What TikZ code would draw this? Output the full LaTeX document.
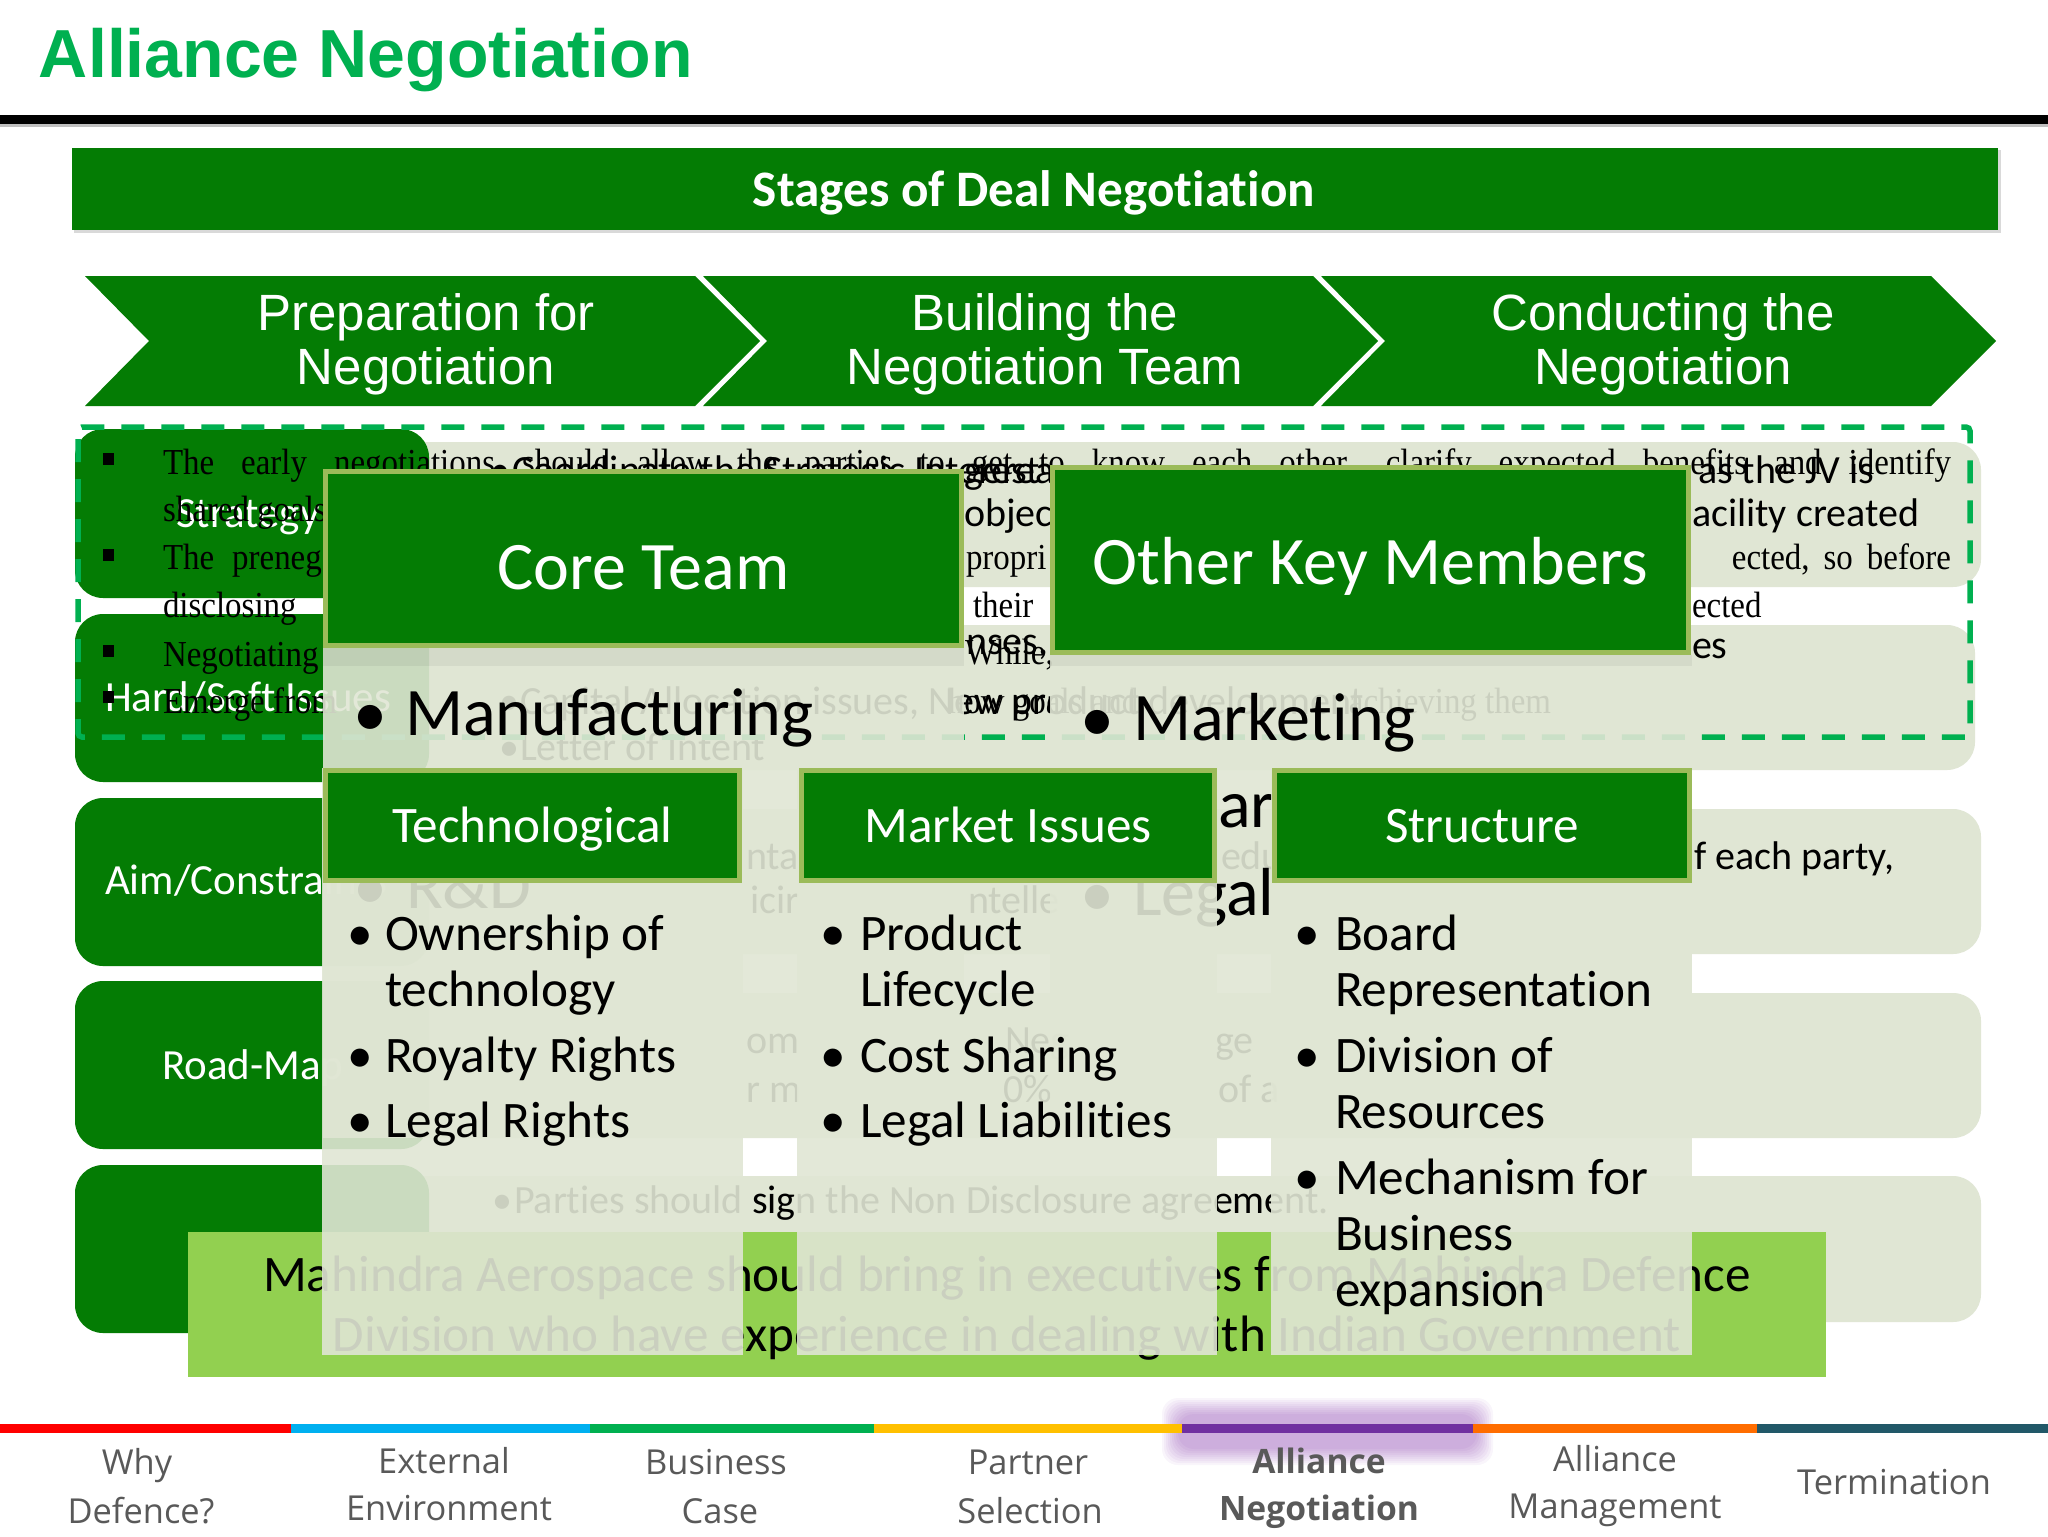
\documentclass[tikz,border=0pt]{standalone}
\usepackage{fontspec}
\setmainfont[Ligatures=NoCommon]{Carlito}
\newfontfamily\arialfont{Liberation Sans}
\newfontfamily\serifont[FakeStretch=0.9]{Liberation Serif}
\newfontfamily\footfont{Open Sans}
\usetikzlibrary{positioning}
\definecolor{dealgreen}{HTML}{047C04}
\definecolor{titlegreen}{HTML}{00B050}
\definecolor{rowpale}{HTML}{E0E6D4}
\definecolor{panelpale}{HTML}{E0E6D4}
\definecolor{headedge}{HTML}{9BBB59}
\definecolor{barlime}{HTML}{92D050}
\definecolor{footgray}{HTML}{595959}
\newcommand{\fs}[1]{\fontsize{#1}{#1}\selectfont}
\begin{document}
\begin{tikzpicture}[x=0.5pt,y=-0.5pt]
\tikzstyle{txt}=[anchor=base west,inner sep=0pt,outer sep=0pt]
\tikzstyle{rowlabel}=[txt,text=white,font=\fs{21.5},yshift=-0.6pt]
\tikzstyle{rowtext}=[txt,font=\fs{20},yshift=-0.6pt]
\tikzstyle{rowserif}=[txt,font=\serifont\fs{18.3},yshift=-0.5pt]
\tikzstyle{panel}=[fill=panelpale,opacity=0.9]
\tikzstyle{headbox}=[fill=dealgreen,draw=headedge,line width=2.5pt,text=white,inner sep=0pt]
\tikzstyle{listitem}=[txt,font=\fs{25.6},yshift=-0.6pt]
\tikzstyle{dot}=[anchor=base,inner sep=0pt,outer sep=0pt,yshift=-0.6pt]
\tikzstyle{chevtext}=[align=center,text=white,font=\arialfont\fs{25.5},inner sep=0pt]
\tikzstyle{foot}=[anchor=base,inner sep=0pt,text=footgray,font=\footfont\fs{17.2}]
\useasboundingbox (0,0) rectangle (2048,1536);
\fill[white] (0,0) rectangle (2048,1536);
% title and banner
\node[txt,text=titlegreen,font=\arialfont\bfseries\fs{34}] (title) at (39,78) {Alliance Negotiation};
\fill[black!25] (0,124) rectangle (2048,127);
\fill[black] (0,115) rectangle (2048,124);
\fill[black!15] (74,150) rectangle (2001,233);
\fill[dealgreen] (72,148) rectangle (1998,230);
\node[anchor=base,inner sep=0pt,text=white,font=\bfseries\fs{25.6}] (banner) at (1034,206) {Stages of Deal Negotiation};
% chevrons
\foreach \xa in {85,703,1321}
  \fill[dealgreen] (\xa,276) -- ++(610,0) -- ++(65,65) -- ++(-65,65) -- ++(-610,0) -- ++(64,-65) -- cycle;
\node[chevtext] (prep) at (426,344.5) {Preparation for\\[1.2pt]Negotiation};
\node[chevtext] (build) at (1045,344.5) {Building the\\[1.2pt]Negotiation Team};
\node[chevtext] (cond) at (1663,344.5) {Conducting the\\[1.2pt]Negotiation};
% rows
\foreach \ya/\yb/\xb in {442/587/1981,625/770/1975,809/954/1981,993/1138/1981,1176/1322/1981}
  \fill[rowpale,rounded corners=14pt] (400,\ya) rectangle (\xb,\yb);
\foreach \ya/\yb in {429/598,614/782,798/966,981/1149,1165/1333}
  \fill[dealgreen,rounded corners=14pt] (75,\ya) rectangle (429,\yb);
\node[rowlabel] (strategy) at (176,526) {Strategy};
\node[rowlabel] (hardsoft) at (105,710) {Hard/Soft Issues};
\node[rowlabel] (aim) at (105,893) {Aim/Constraints};
\node[rowlabel] (roadmap) at (162,1078) {Road-Map};
% text of the rows
\node[rowtext] (capdot) at (499,713) {\textbullet};
\node[rowtext] (capital) at (520,713) {Capital Allocation issues, New product development};
\node[rowtext] (loidot) at (499,759) {\textbullet};
\node[rowtext] (loi) at (520,759) {Letter of Intent};
\node[rowtext] (rowa) at (746,868) {nta};
\node[rowtext] (rowb) at (1221,868) {edu};
\node[rowtext] (rowc) at (1694,868) {f each party,};
\node[rowtext] (rowd) at (750,912) {icir};
\node[rowtext] (rowe) at (968,912) {ntelle};
\node[rowtext] (rowf) at (746,1052) {om};
\node[rowtext] (rowg) at (1005,1052) {Neg};
\node[rowtext] (rowh) at (1215,1052) {ge};
\node[rowtext] (rowi) at (746,1101) {r m};
\node[rowtext] (rowj) at (1003,1101) {0\%};
\node[rowtext] (rowk) at (1218,1101) {of a};
\node[rowtext] (ndadot) at (492,1212) {\textbullet};
\node[rowtext] (nda) at (514,1212) {Parties should sign the Non Disclosure agreement.};
% dashed frame
\draw[titlegreen,line width=2.75pt,rounded corners=2pt,dash pattern=on 11.5pt off 8.5pt,dash phase=-4pt] (78,427) rectangle (1970,737);
% serif list
\foreach \yb in {459,555,651,697}
  \fill[black] (103,\yb-6) rectangle (114,\yb+6);
\node[rowserif] (lineone) at (163,473) {\makebox[894pt][s]{The early negotiations should allow the parties to get to know each other, clarify expected benefits and identify}};
\node[rowserif] (linetwo) at (163,520) {shared goals};
\node[rowserif] (linethree) at (163,568) {The\hspace{9pt}prenegotiation};
\node[rowserif] (propri) at (966,568) {propri};
\node[rowserif,anchor=base east] (before) at (1951,568) {ected,\hspace{7pt}so\hspace{7pt}before};
\node[rowserif] (linefour) at (163,616) {disclosing};
\node[rowserif] (their) at (973,616) {their};
\node[rowserif] (ected) at (1692,616) {ected};
\node[rowserif] (linefive) at (163,665) {Negotiating};
\node[rowserif] (whil) at (965,663) {While,};
\node[rowserif] (linesix) at (163,712) {Emerge from};
\node[rowserif] (howgo) at (948,712) {how goals and};
\node[rowserif,anchor=base east] (achiev) at (1551,712) {achieving them};
% second list over it
\node[rowtext] (sdot) at (490,482) {\textbullet};
\node[rowtext] (sline) at (512,482) {Coordinate the Strategic Interest};
\node[rowtext] (gerea) at (964,482) {gerea};
\node[rowtext] (jvis) at (1698,482) {as the JV is};
\node[rowtext] (objec) at (964,525) {objec};
\node[rowtext] (facil) at (1692,525) {acility created};
\node[rowtext] (nses) at (966,653) {nses,};
\node[rowtext] (es) at (1692,657) {es};
% core and other panels
\fill[panel] (323,648) rectangle (964,1138);
\fill[panel] (1050,655) rectangle (1692,1138);
\fill[black,opacity=0.05] (323,648) rectangle (964,666);
\fill[black,opacity=0.05] (1050,655) rectangle (1692,666);
\node[headbox,minimum width=318pt,minimum height=87pt,text height=34.5pt,text depth=3.5pt,font=\fs{34}] (core) at (643.5,558.5) {Core Team};
\node[headbox,minimum width=318pt,minimum height=92.5pt,text height=28.5pt,text depth=4pt,font=\fs{34}] (other) at (1370.5,560) {Other Key Members};
\node[dot,font=\fs{34}] (mdot) at (370,735) {\textbullet};
\node[txt,font=\fs{34}] (manuf) at (405,735) {Manufacturing};
\node[dot,font=\fs{34}] (mkdot) at (1097,740) {\textbullet};
\node[txt,font=\fs{34}] (market) at (1133,740) {Marketing};
\node[txt,font=\fs{34}] (arpart) at (1218,827) {ar};
\node[dot,font=\fs{34}] (rddot) at (370,908) {\textbullet};
\node[txt,font=\fs{34}] (rd) at (406,908) {R\&D};
\node[dot,font=\fs{34}] (legdot) at (1097,915) {\textbullet};
\node[txt,font=\fs{34}] (legal) at (1133,915) {Legal};
% bottom bar
\fill[barlime] (188,1232) rectangle (1826,1377);
\node[anchor=base,inner sep=0pt,font=\fs{25.6}] (barone) at (1007,1291.5) {Mahindra Aerospace should bring in executives from Mahindra Defence};
\node[anchor=base,inner sep=0pt,font=\fs{25.6}] (bartwo) at (1007,1351.5) {Division who have experience in dealing with Indian Government};
% three columns
\fill[panel] (322,768) rectangle (743,1355);
\fill[panel] (797,768) rectangle (1217,1355);
\fill[panel] (1271,768) rectangle (1692,1355);
\node[headbox,minimum width=207pt,minimum height=55pt,text height=20pt,text depth=3.5pt,font=\fs{25.6}] (tech) at (532.5,825.5) {Technological};
\node[headbox,minimum width=206.5pt,minimum height=55pt,text height=20pt,text depth=3.5pt,font=\fs{25.6}] (issues) at (1008,825.5) {Market Issues};
\node[headbox,minimum width=207.5pt,minimum height=55pt,text height=20pt,text depth=3.5pt,font=\fs{25.6}] (struct) at (1482,825.5) {Structure};
\foreach \xd/\xt/\yt/\name in {360/385/949/Ownership of,385/385/1005/technology,360/385/1071/Royalty Rights,360/385/1136/Legal Rights,
    833/860/949/Product,860/860/1005/Lifecycle,833/860/1071/Cost Sharing,833/860/1136/Legal Liabilities,
    1307/1335/949/Board,1335/1335/1005/Representation,1307/1335/1071/Division of,1335/1335/1127/Resources,
    1307/1335/1193/Mechanism for,1335/1335/1249/Business,1335/1335/1305/expansion}{
  \node[listitem] at (\xt,\yt) {\name};
  \ifnum\xd=\xt\else\node[dot,font=\fs{25.6}] at (\xd,\yt) {\textbullet};\fi
}
% footer
\foreach \gr in {0,2,...,16}
  \fill[rounded corners=8pt,fill=violet!80!blue,opacity=0.04] (1162+\gr,1398+\gr) rectangle (1493-\gr,1465-\gr);
\foreach \xa/\xb/\col in {0/291/FF0000,291/590/00B0F0,590/874/00B050,874/1182/FFC000,1182/1473/7030A0,1473/1757/FF6D00,1757/2048/215868}{
  \definecolor{segcol}{HTML}{\col}
  \fill[segcol] (\xa,1424) rectangle (\xb,1433);
}
\node[foot] (whya) at (137,1474) {Why};
\node[foot] (whyb) at (141,1523) {Defence?};
\node[foot] (exta) at (444,1473) {External};
\node[foot] (extb) at (449,1520) {Environment};
\node[foot] (busa) at (716,1474) {Business};
\node[foot] (busb) at (720,1523) {Case};
\node[foot] (para) at (1028,1474) {Partner};
\node[foot] (parb) at (1030,1523) {Selection};
\node[foot,font=\footfont\bfseries\fs{16.8}] (nega) at (1319,1473) {Alliance};
\node[foot,font=\footfont\bfseries\fs{16.8}] (negb) at (1319,1520) {Negotiation};
\node[foot] (mana) at (1615,1471) {Alliance};
\node[foot] (manb) at (1615,1518) {Management};
\node[foot] (term) at (1894,1494) {Termination};
\end{tikzpicture}
\end{document}
